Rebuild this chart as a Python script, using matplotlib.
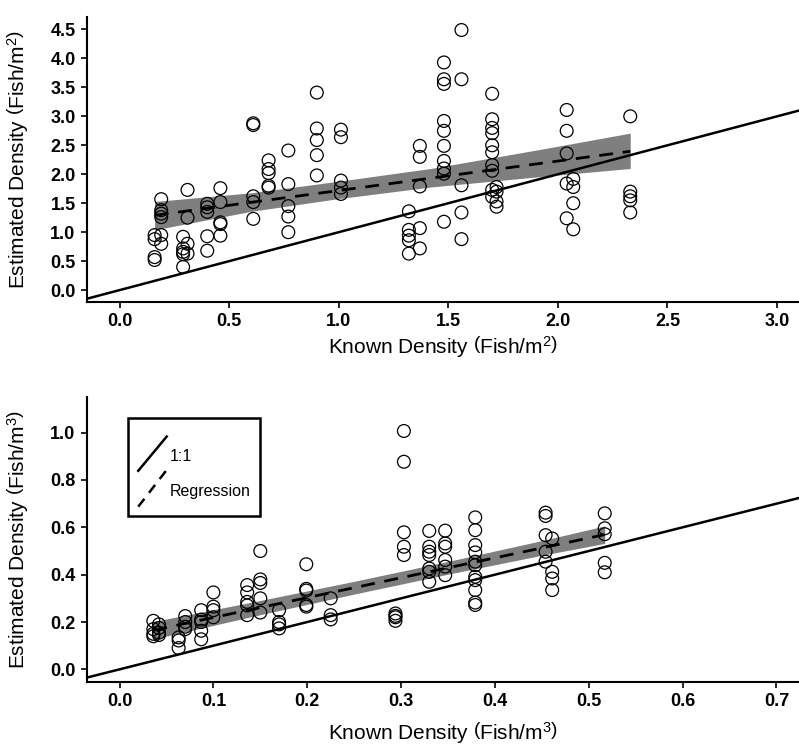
import matplotlib
matplotlib.use("Agg")
import matplotlib.pyplot as plt
import numpy as np
from matplotlib.patches import Rectangle

plt.rcParams['font.family'] = ['Liberation Sans', 'DejaVu Sans']
plt.rcParams['mathtext.fontset'] = 'custom'
plt.rcParams['mathtext.rm'] = 'Liberation Sans'
plt.rcParams['mathtext.default'] = 'regular'

# area density (fish/m2): known level -> estimated replicates
area_known = [0.16, 0.19, 0.29, 0.31, 0.40, 0.46, 0.61, 0.68, 0.77, 0.90,
              1.01, 1.32, 1.37, 1.48, 1.56, 1.70, 1.72, 2.04, 2.07, 2.33]
area_est = [
    [0.95, 0.88, 0.57, 0.52],
    [1.57, 1.38, 1.32, 1.26, 0.95, 0.80],
    [0.92, 0.72, 0.66, 0.62, 0.40],
    [1.73, 1.25, 0.80, 0.63],
    [1.49, 1.43, 1.35, 0.93, 0.68],
    [1.76, 1.52, 1.17, 1.14, 0.94],
    [2.88, 2.85, 1.62, 1.52, 1.23],
    [2.24, 2.09, 2.02, 1.80, 1.77],
    [2.41, 1.83, 1.45, 1.27, 1.00],
    [3.41, 2.79, 2.59, 2.33, 1.98],
    [2.77, 2.64, 1.89, 1.77, 1.66],
    [1.36, 1.04, 0.94, 0.86, 0.63],
    [2.49, 2.30, 1.79, 1.07, 0.72],
    [3.93, 3.64, 3.56, 2.92, 2.75, 2.49, 2.23, 2.10, 2.01, 1.18],
    [4.49, 3.64, 1.81, 1.34, 0.88],
    [3.39, 2.95, 2.80, 2.71, 2.50, 2.38, 2.16, 2.06, 1.73, 1.61],
    [1.78, 1.70, 1.53, 1.44],
    [3.11, 2.75, 2.36, 1.84, 1.24],
    [1.92, 1.78, 1.50, 1.05],
    [3.00, 1.70, 1.62, 1.55, 1.34],
]
area_fit = (1.21, 0.509)   # intercept, slope
area_band_x = [0.16, 0.60, 1.00, 1.42, 1.92, 2.33]
area_band_lo = [1.04, 1.36, 1.58, 1.78, 1.96, 2.10]
area_band_hi = [1.53, 1.68, 1.88, 2.10, 2.43, 2.71]

# volume density (fish/m3)
vol_known = [0.036, 0.042, 0.063, 0.070, 0.087, 0.100, 0.136, 0.150, 0.170,
             0.199, 0.225, 0.294, 0.303, 0.330, 0.347, 0.379, 0.454, 0.461, 0.517]
vol_est = [
    [0.205, 0.170, 0.150, 0.140],
    [0.190, 0.175, 0.155, 0.145],
    [0.135, 0.122, 0.090],
    [0.225, 0.200, 0.180, 0.170],
    [0.250, 0.210, 0.200, 0.163, 0.127],
    [0.325, 0.265, 0.250, 0.220],
    [0.356, 0.325, 0.285, 0.270, 0.229],
    [0.500, 0.380, 0.365, 0.300, 0.240],
    [0.250, 0.200, 0.190, 0.173],
    [0.444, 0.340, 0.333, 0.272, 0.265],
    [0.300, 0.229, 0.211],
    [0.236, 0.226, 0.220, 0.205],
    [1.007, 0.877, 0.579, 0.518, 0.483],
    [0.585, 0.518, 0.497, 0.483, 0.426, 0.412, 0.370],
    [0.586, 0.532, 0.518, 0.462, 0.434, 0.398],
    [0.642, 0.588, 0.525, 0.494, 0.455, 0.440, 0.391, 0.377, 0.335, 0.282, 0.272],
    [0.662, 0.648, 0.567, 0.497, 0.455],
    [0.553, 0.412, 0.384, 0.335],
    [0.659, 0.596, 0.571, 0.450, 0.410],
]
vol_fit = (0.135, 0.84)
vol_band_x = [0.036, 0.15, 0.25, 0.35, 0.45, 0.517]
vol_band_lo = [0.128, 0.231, 0.318, 0.402, 0.482, 0.532]
vol_band_hi = [0.202, 0.291, 0.372, 0.456, 0.544, 0.606]


def panel(ax, known, est, fit, bx, blo, bhi, xlim, ylim, xticks, yticks, unit, xlab_y):
    xs = np.concatenate([[k] * len(e) for k, e in zip(known, est)])
    ys = np.concatenate(est)
    ax.plot(xlim, xlim, color='black', lw=1.8, zorder=2)
    ax.fill_between(bx, blo, bhi, color='#7f7f7f', lw=0, zorder=1)
    fx = np.array([bx[0], bx[-1]])
    ax.plot(fx, fit[0] + fit[1] * fx, color='black', lw=2, ls=(0, (5, 3.5)), zorder=3)
    ax.scatter(xs, ys, s=85, facecolors='none', edgecolors='black', linewidths=0.9, zorder=4)
    ax.set_xlim(xlim)
    ax.set_ylim(ylim)
    ax.set_xticks(xticks)
    ax.set_yticks(yticks)
    ax.xaxis.set_major_formatter(matplotlib.ticker.FormatStrFormatter('%.1f'))
    ax.yaxis.set_major_formatter(matplotlib.ticker.FormatStrFormatter('%.1f'))
    for lab in ax.get_xticklabels() + ax.get_yticklabels():
        lab.set_fontweight('bold')
        lab.set_fontsize(13)
    ax.tick_params(direction='out', length=4, width=1.2, pad=4)
    ax.spines['top'].set_visible(False)
    ax.spines['right'].set_visible(False)
    ax.spines['left'].set_linewidth(1.5)
    ax.spines['bottom'].set_linewidth(1.5)
    ax.set_xlabel('Known Density $\\left(Fish/m^{%s}\\right)$' % unit, fontsize=15)
    ax.set_ylabel('Estimated Density $\\left(Fish/m^{%s}\\right)$' % unit, fontsize=15)
    ax.xaxis.set_label_coords(0.5, xlab_y)
    ax.yaxis.set_label_coords(-0.078, 0.5)


fig = plt.figure(figsize=(7.99, 7.49), dpi=100)
ax1 = fig.add_axes([0.1085, 0.5972, 0.8915, 0.3805])
ax2 = fig.add_axes([0.1085, 0.0899, 0.8915, 0.3805])

panel(ax1, area_known, area_est, area_fit, area_band_x, area_band_lo, area_band_hi,
      (-0.15, 3.1), (-0.2, 4.72), np.arange(0, 3.01, 0.5), np.arange(0, 4.51, 0.5), '2', -0.115)
panel(ax2, vol_known, vol_est, vol_fit, vol_band_x, vol_band_lo, vol_band_hi,
      (-0.035, 0.724), (-0.052, 1.152), np.arange(0, 0.71, 0.1), np.arange(0, 1.01, 0.2), '3', -0.135)

# legend with diagonal keys
ax2.add_patch(Rectangle((0.058, 0.581), 0.185, 0.343, transform=ax2.transAxes,
                        fill=False, edgecolor='black', lw=1.8, zorder=5))
ax2.plot([0.0724, 0.1123], [0.740, 0.860], transform=ax2.transAxes, color='black', lw=1.8, zorder=6)
ax2.plot([0.0724, 0.1123], [0.614, 0.743], transform=ax2.transAxes, color='black', lw=1.8,
         ls=(0, (4, 3)), zorder=6)
ax2.text(0.117, 0.789, '1:1', transform=ax2.transAxes, fontsize=11.5, va='center', ha='left')
ax2.text(0.117, 0.669, 'Regression', transform=ax2.transAxes, fontsize=11.5, va='center', ha='left')

fig.savefig('out.png', dpi=100)
